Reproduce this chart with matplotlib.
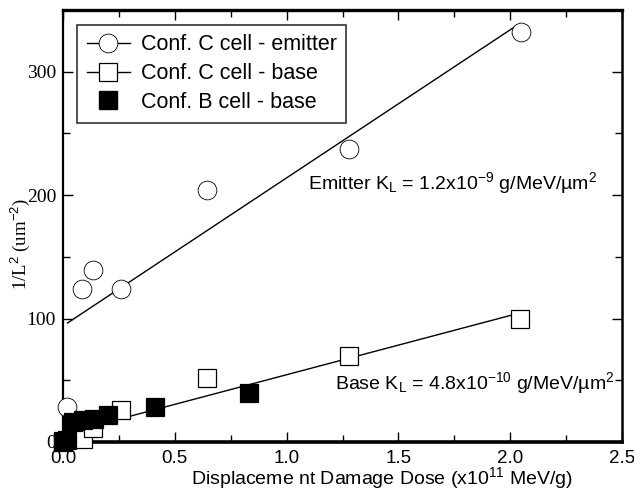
import numpy as np
import matplotlib.pyplot as plt
from matplotlib.lines import Line2D
from matplotlib.ticker import MultipleLocator

plt.rcParams['font.family'] = ['Liberation Sans', 'DejaVu Sans']
plt.rcParams['mathtext.fontset'] = 'custom'
plt.rcParams['mathtext.rm'] = 'Liberation Sans'
plt.rcParams['mathtext.it'] = 'Liberation Sans:italic'

# dose in units of 1e11 MeV/g, 1/L^2 in um^-2
emitter_c_dose = [0.02, 0.085, 0.135, 0.26, 0.645, 1.28, 2.05]
emitter_c_val = [28, 124, 139, 124, 204, 237, 332]

base_c_dose = [0.0, 0.09, 0.135, 0.26, 0.645, 1.28, 2.045]
base_c_val = [0, 2.5, 11, 26, 52, 70, 100]

base_b_dose = [0.0, 0.02, 0.045, 0.09, 0.14, 0.2, 0.41, 0.83]
base_b_val = [1, 2, 16, 18, 19, 22, 28, 40]

# linear fits: slope = K_L * 1e11
emitter_fit = (120.0, 94.0)
base_fit = (48.0, 6.5)
emitter_fit_x = [0.02, 2.02]
base_fit_x = [0.0, 2.01]

fig = plt.figure(figsize=(6.34, 4.91), dpi=100)
ax = fig.add_axes([0.0994, 0.0998, 0.8817, 0.8798])

ms = 13.5
kw = dict(linestyle='none', markersize=ms, markeredgecolor='black',
          clip_on=False, zorder=3)

fx = np.array(emitter_fit_x)
ax.plot(fx, emitter_fit[0] * fx + emitter_fit[1], color='black', lw=1.0, zorder=2)
fx = np.array(base_fit_x)
ax.plot(fx, base_fit[0] * fx + base_fit[1], color='black', lw=1.0, zorder=2)

ax.plot(emitter_c_dose, emitter_c_val, marker='o', markerfacecolor='white',
        markeredgewidth=0.6, **kw)
ax.plot(base_c_dose, base_c_val, marker='s', markerfacecolor='white',
        markeredgewidth=0.9, **kw)
ax.plot(base_b_dose, base_b_val, marker='s', markerfacecolor='black',
        markeredgewidth=0.9, **kw)

ax.set_xlim(0, 2.5)
ax.set_ylim(0, 350)
ax.xaxis.set_major_locator(MultipleLocator(0.5))
ax.xaxis.set_minor_locator(MultipleLocator(0.25))
ax.yaxis.set_major_locator(MultipleLocator(100))
ax.yaxis.set_minor_locator(MultipleLocator(50))
ax.tick_params(which='both', direction='in', top=True, right=True, width=1.0)
ax.tick_params(which='major', length=7)
ax.tick_params(which='minor', length=5)
ax.tick_params(axis='x', labelsize=13.5, pad=6)
ax.tick_params(axis='y', labelsize=14, pad=5)
for lab in ax.get_yticklabels():
    lab.set_family(['Liberation Serif', 'DejaVu Serif'])

for side, lw in [('bottom', 2.6), ('top', 2.4), ('left', 1.6), ('right', 1.8)]:
    ax.spines[side].set_linewidth(lw)

ax.set_xlabel('Displaceme nt Damage Dose (x10$^{11}$ MeV/g)', fontsize=14,
              va='center')
ax.xaxis.set_label_coords(0.571, -0.083)
ax.set_ylabel('1/L$^{2}$ (um$^{-2}$)', fontsize=13.5,
              family=['Liberation Serif', 'DejaVu Serif'])
ax.yaxis.set_label_coords(-0.055, 0.458)

ax.text(1.095, 210, 'Emitter K$_\\mathrm{L}$ = 1.2x10$^{-9}$ g/MeV/µm$^{2}$',
        fontsize=14, va='center', ha='left')
ax.text(1.215, 48, 'Base K$_\\mathrm{L}$ = 4.8x10$^{-10}$ g/MeV/µm$^{2}$',
        fontsize=14, va='center', ha='left')

handles = [
    Line2D([], [], color='black', lw=1.0, marker='o', markersize=ms,
           markerfacecolor='white', markeredgecolor='black', markeredgewidth=0.6),
    Line2D([], [], color='black', lw=1.0, marker='s', markersize=ms,
           markerfacecolor='white', markeredgecolor='black', markeredgewidth=0.9),
    Line2D([], [], linestyle='none', marker='s', markersize=ms,
           markerfacecolor='black', markeredgecolor='black'),
]
labels = ['Conf. C cell - emitter', 'Conf. C cell - base', 'Conf. B cell - base']
leg = ax.legend(handles, labels, loc='upper left', bbox_to_anchor=(0.025, 0.966),
                fontsize=15.5, frameon=True, fancybox=False, edgecolor='black',
                handlelength=2.0, handletextpad=0.5, borderpad=0.45,
                labelspacing=0.36, borderaxespad=0)
leg.get_frame().set_linewidth(1.2)

fig.savefig('out.png', dpi=100)
